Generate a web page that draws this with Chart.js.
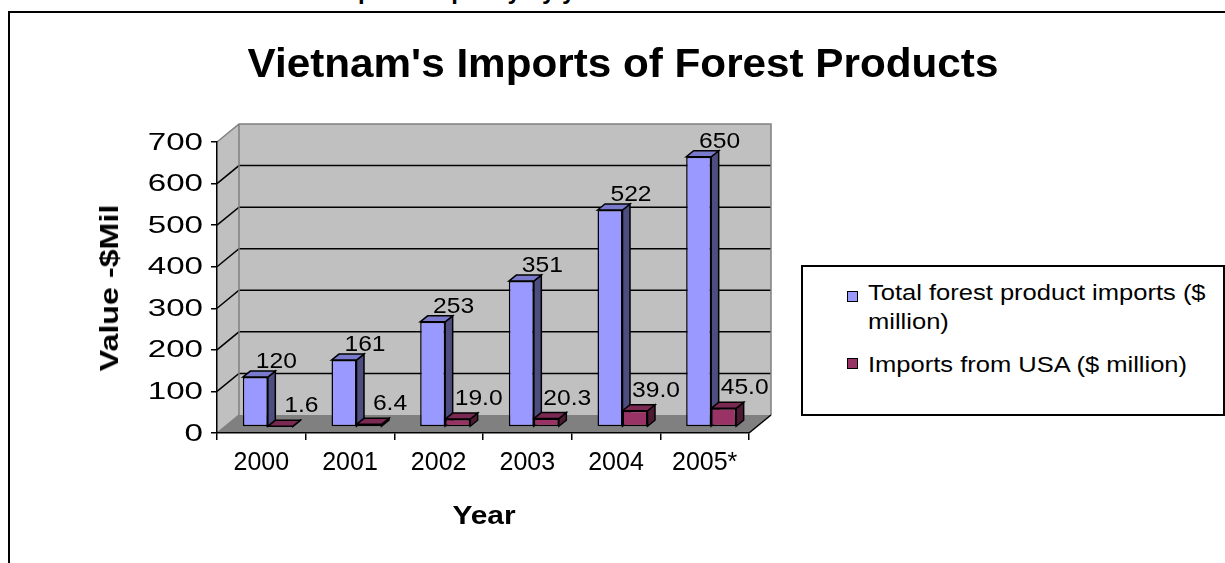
<!DOCTYPE html>
<html><head><meta charset="utf-8">
<script src="https://cdn.jsdelivr.net/npm/chart.js@4.4.1/dist/chart.umd.min.js"></script>
<style>
html,body{margin:0;padding:0;background:#fff;overflow:hidden}
#wrap{position:relative;width:1225px;height:563px;overflow:hidden;font-family:"Liberation Sans",Arial,sans-serif;}
canvas{position:absolute;left:0;top:0}
.t{position:absolute;white-space:nowrap;color:#000;line-height:1}
</style></head><body>
<div id="wrap">
  <div class="t" style="left:330px;top:-21px;font-size:24px;line-height:24px;font-weight:bold;">Imports capacity by year</div>
  <div style="position:absolute;left:8px;top:11px;width:1400px;height:700px;border-left:2px solid #000;border-top:2px solid #000;"></div>
  <canvas id="c" width="1225" height="563"></canvas>
  <div class="t" style="left:0;width:1246px;text-align:center;top:43px;font-size:41px;line-height:41px;font-weight:bold;transform:scaleX(1.03);">Vietnam's Imports of Forest Products</div>
  <div class="t" style="left:109px;top:288px;font-size:26px;line-height:26px;font-weight:bold;transform:translate(-50%,-50%) rotate(-90deg) scaleX(1.24);">Value -$Mil</div>
  <div class="t" style="left:484px;top:502px;font-size:26px;line-height:26px;font-weight:bold;transform:translateX(-50%) scaleX(1.15);">Year</div>
  <div id="legend" style="position:absolute;left:801px;top:265px;width:424px;height:151px;box-sizing:border-box;border:2px solid #000;background:#fff;"></div>
</div>
<script>
const years = ['2000', '2001', '2002', '2003', '2004', '2005*'];
const totalImports = [120, 161, 253, 351, 522, 650];
const usaImports = [1.6, 6.4, 19.0, 20.3, 39.0, 45.0];
const seriesNames = ['Total forest product imports ($ million)', 'Imports from USA ($ million)'];
const legendLines = [['Total forest product imports ($', 'million)'], ['Imports from USA ($ million)']];
const yMin = 0, yMax = 700, yStep = 100;

const FONT = "'Liberation Sans', Arial, sans-serif";
const faces = [
  {front: '#9999FF', side: '#4D4D80', top: '#7A7ACC', decimals: 0, lx: 21, ly: -15},
  {front: '#993366', side: '#4D1A33', top: '#7A2952', decimals: 1, lx: 21, ly: -20}
];
const D = {wx: 22, wy: -18, bx: 6.5, by: -6, sx: 7.5, sy: -6};

function stretchText(ctx, txt, x, y, sx) {
  ctx.save(); ctx.translate(x, y); ctx.scale(sx, 1); ctx.fillText(txt, 0, 0); ctx.restore();
}

// legend (HTML)
(function(){
  const lg = document.getElementById('legend');
  const rows = [{sq: 291 - 265, lines: [282 - 265, 311 - 265]}, {sq: 358 - 265, lines: [354 - 265]}];
  rows.forEach((r, i) => {
    const sq = document.createElement('div');
    sq.style.cssText = `position:absolute;left:${847-803}px;top:${r.sq-2}px;width:9px;height:9px;border:1.5px solid #000;background:${faces[i].front};`;
    lg.appendChild(sq);
    legendLines[i].forEach((txt, j) => {
      const d = document.createElement('div');
      d.className = 't';
      d.textContent = txt;
      d.style.cssText += `left:${868-803}px;top:${r.lines[j]-2}px;font-size:22px;line-height:22px;transform-origin:left center;transform:scaleX(1.16);`;
      lg.appendChild(d);
    });
  });
})();

const plugin3d = {
  id: 'p3d',
  beforeDraw(chart) {
    const {ctx} = chart; const xs = chart.scales.x, ys = chart.scales.y;
    const L = xs.left, R = xs.right, T = ys.getPixelForValue(yMax), B = ys.getPixelForValue(yMin);
    const wx = D.wx, wy = D.wy;
    ctx.save();
    ctx.fillStyle = '#C0C0C0';
    ctx.fillRect(L + wx, T + wy, R - L, B - T);
    ctx.beginPath(); ctx.moveTo(L, T); ctx.lineTo(L + wx, T + wy); ctx.lineTo(L + wx, B + wy); ctx.lineTo(L, B); ctx.closePath(); ctx.fill();
    ctx.fillStyle = '#808080';
    ctx.beginPath(); ctx.moveTo(L, B); ctx.lineTo(R, B); ctx.lineTo(R + wx, B + wy); ctx.lineTo(L + wx, B + wy); ctx.closePath(); ctx.fill();
    ctx.lineWidth = 1.5; ctx.strokeStyle = '#000';
    for (let v = yMin + yStep; v < yMax; v += yStep) {
      const y = ys.getPixelForValue(v);
      ctx.beginPath(); ctx.moveTo(L, y); ctx.lineTo(L + wx, y + wy); ctx.lineTo(R + wx, y + wy); ctx.stroke();
    }
    ctx.strokeStyle = '#808080';
    ctx.beginPath();
    ctx.moveTo(L, T); ctx.lineTo(L + wx, T + wy); ctx.lineTo(R + wx, T + wy); ctx.lineTo(R + wx, B + wy);
    ctx.moveTo(L + wx, T + wy); ctx.lineTo(L + wx, B + wy);
    ctx.moveTo(L, B); ctx.lineTo(L + wx, B + wy);
    ctx.stroke();
    ctx.strokeStyle = '#000';
    ctx.beginPath(); ctx.moveTo(R, B); ctx.lineTo(R + wx, B + wy); ctx.stroke();
    // y tick labels (stretched like the original)
    ctx.fillStyle = '#000'; ctx.font = '24px ' + FONT; ctx.textAlign = 'right'; ctx.textBaseline = 'middle';
    ys.ticks.forEach(t => {
      stretchText(ctx, String(t.value), L - 14, ys.getPixelForValue(t.value) + 1, 1.38);
    });
    ctx.restore();
  },
  beforeDatasetsDraw(chart) {
    const {ctx} = chart;
    ctx.save();
    ctx.translate(D.bx, D.by);
    ctx.lineWidth = 1.5; ctx.strokeStyle = '#000'; ctx.lineJoin = 'miter';
    chart.data.datasets.forEach((ds, di) => {
      const meta = chart.getDatasetMeta(di);
      meta.data.forEach(el => {
        const p = el.getProps(['x', 'y', 'base', 'width'], true);
        const l = p.x - p.width / 2, r = p.x + p.width / 2, top = p.y, base = p.base;
        ctx.fillStyle = faces[di].side;
        ctx.beginPath(); ctx.moveTo(r, top); ctx.lineTo(r + D.sx, top + D.sy); ctx.lineTo(r + D.sx, base + D.sy); ctx.lineTo(r, base); ctx.closePath(); ctx.fill(); ctx.stroke();
        ctx.fillStyle = faces[di].top;
        ctx.beginPath(); ctx.moveTo(l, top); ctx.lineTo(l + D.sx, top + D.sy); ctx.lineTo(r + D.sx, top + D.sy); ctx.lineTo(r, top); ctx.closePath(); ctx.fill(); ctx.stroke();
      });
    });
  },
  afterDatasetsDraw(chart) {
    const {ctx} = chart;
    ctx.restore();
    ctx.save();
    ctx.font = '22px ' + FONT; ctx.fillStyle = '#000'; ctx.textAlign = 'center'; ctx.textBaseline = 'middle';
    chart.data.datasets.forEach((ds, di) => {
      const meta = chart.getDatasetMeta(di);
      meta.data.forEach((el, i) => {
        const p = el.getProps(['x', 'y'], true);
        stretchText(ctx, ds.data[i].toFixed(faces[di].decimals), p.x + D.bx + faces[di].lx, p.y + D.by + faces[di].ly, 1.12);
      });
    });
    ctx.restore();
  }
};

new Chart(document.getElementById('c'), {
  type: 'bar',
  data: {
    labels: years,
    datasets: [
      {label: seriesNames[0], data: totalImports, backgroundColor: faces[0].front, borderColor: '#000', borderWidth: 1.5, borderSkipped: false, categoryPercentage: 0.564, barPercentage: 1.0},
      {label: seriesNames[1], data: usaImports, backgroundColor: faces[1].front, borderColor: '#000', borderWidth: 1.5, borderSkipped: false, categoryPercentage: 0.564, barPercentage: 1.0}
    ]
  },
  options: {
    responsive: false, animation: false, devicePixelRatio: 1,
    layout: {padding: {top: 142, right: 476, left: 0, bottom: 0}},
    plugins: {legend: {display: false}, title: {display: false}, tooltip: {enabled: false}},
    scales: {
      x: {
        afterFit: s => { s.height = 130; },
        grid: {drawOnChartArea: false, drawTicks: true, tickLength: 7, color: '#000', lineWidth: 1.5},
        border: {display: true, color: '#000', width: 1.5},
        ticks: {color: '#000', font: {family: FONT, size: 25}, padding: 8, maxRotation: 0, autoSkip: false}
      },
      y: {
        min: yMin, max: yMax,
        afterFit: s => { s.width = 217; },
        grid: {drawOnChartArea: false, drawTicks: true, tickLength: 6, color: '#000', lineWidth: 1.5},
        border: {display: true, color: '#000', width: 1.5},
        ticks: {display: false, stepSize: yStep}
      }
    }
  },
  plugins: [plugin3d]
});
</script>
</body></html>
